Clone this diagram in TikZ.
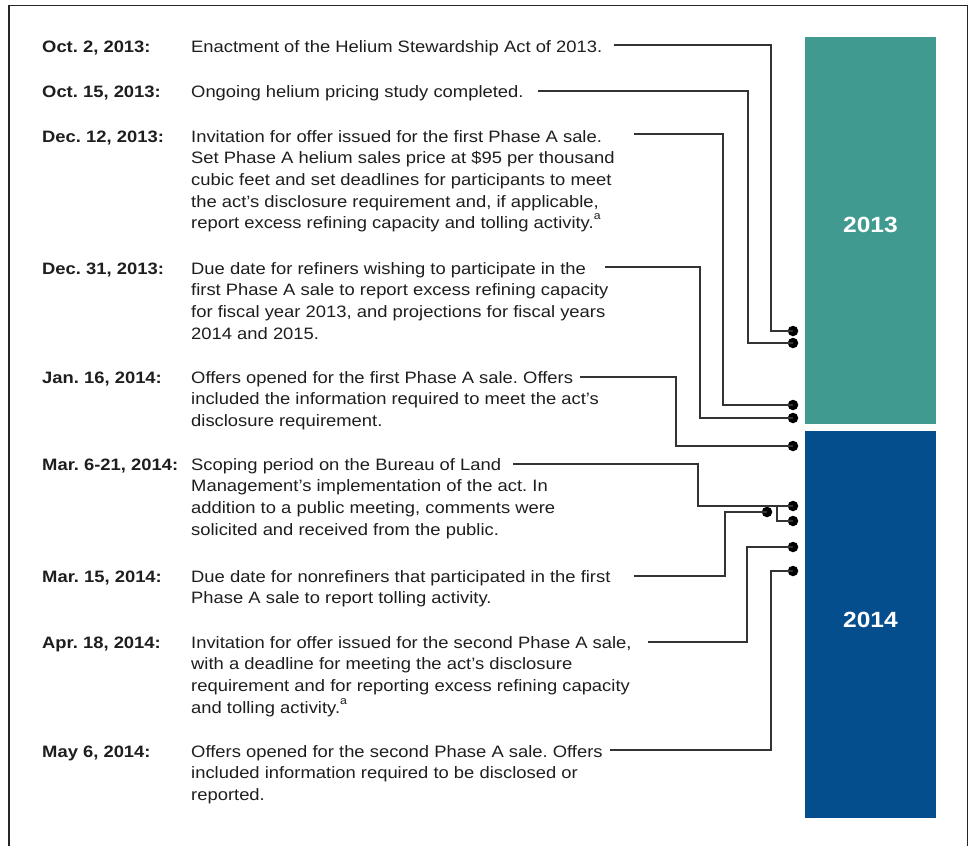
\documentclass[tikz,border=0pt]{standalone}
\usepackage{fontspec}
\setmainfont[FakeStretch=1.115]{Liberation Sans}
\frenchspacing
\definecolor{tealbox}{HTML}{409A90}
\definecolor{bluebox}{HTML}{054E8E}
\definecolor{ink}{HTML}{1E1E1E}
\definecolor{wire}{HTML}{333333}
\newcommand{\supa}{\raisebox{9pt}{\fontsize{11}{11}\selectfont a}}
\begin{document}
\begin{tikzpicture}[x=1pt,y=-1pt,
  txt/.style={inner sep=0pt,anchor=base west,text=ink,font=\fontsize{16.5}{21.7}\selectfont\frenchspacing},
  datelbl/.style={txt,font=\fontsize{16.5}{21.7}\selectfont\bfseries},
  conn/.style={draw=wire,line width=1.4pt},
  dot/.style={circle,fill=black,inner sep=0pt,minimum size=10.5pt},
  yearlbl/.style={text=white,font=\fontsize{22}{24}\selectfont\bfseries}]
\useasboundingbox (0,0) rectangle (972,846);
% frame (open at bottom)
\draw[line width=1.3pt,draw=black!85] (9,846) -- (9,5.5) -- (967.5,5.5) -- (967.5,846);
% year bars
\node[fill=tealbox,inner sep=0pt,minimum width=130.5pt,minimum height=387pt,anchor=north west] (y13) at (805,37) {};
\node[fill=bluebox,inner sep=0pt,minimum width=130.5pt,minimum height=387pt,anchor=north west] (y14) at (805,431) {};
\node[yearlbl] (l13) at ([yshift=6pt]y13.center) {2013};
\node[yearlbl] (l14) at ([yshift=5pt]y14.center) {2014};
% items
\node[datelbl] (t1) at (42,52) {Oct. 2, 2013:};
\node[txt] (d1) at (191,52) {Enactment of the Helium Stewardship Act of 2013.};
\node[datelbl] (t2) at (42,97) {Oct. 15, 2013:};
\node[txt] (d2) at (191,97) {Ongoing helium pricing study completed.};
\node[datelbl] (t3) at (42,142) {Dec. 12, 2013:};
\node[txt] (d3) at (191,142) {Invitation for offer issued for the first Phase A sale.};
\node[txt] (e3) at (191,163.7) {\begin{tabular}[t]{@{}l@{}}Set Phase A helium sales price at \$95 per thousand\\cubic feet and set deadlines for participants to meet\\the act’s disclosure requirement and, if applicable,\\report excess refining capacity and tolling activity.\supa\end{tabular}};
\node[datelbl] (t4) at (42,274) {Dec. 31, 2013:};
\node[txt] (d4) at (191,274) {Due date for refiners wishing to participate in the};
\node[txt] (e4) at (191,295.7) {\begin{tabular}[t]{@{}l@{}}first Phase A sale to report excess refining capacity\\for fiscal year 2013, and projections for fiscal years\\2014 and 2015.\end{tabular}};
\node[datelbl] (t5) at (42,383) {Jan. 16, 2014:};
\node[txt] (d5) at (191,383) {Offers opened for the first Phase A sale. Offers};
\node[txt] (e5) at (191,404.7) {\begin{tabular}[t]{@{}l@{}}included the information required to meet the act’s\\disclosure requirement.\end{tabular}};
\node[datelbl] (t6) at (42,470) {Mar. 6-21, 2014:};
\node[txt] (d6) at (191,470) {Scoping period on the Bureau of Land};
\node[txt] (e6) at (191,491.7) {\begin{tabular}[t]{@{}l@{}}Management’s implementation of the act. In\\addition to a public meeting, comments were\\solicited and received from the public.\end{tabular}};
\node[datelbl] (t7) at (42,582) {Mar. 15, 2014:};
\node[txt] (d7) at (191,582) {Due date for nonrefiners that participated in the first};
\node[txt] (e7) at (191,603.7) {\begin{tabular}[t]{@{}l@{}}Phase A sale to report tolling activity.\end{tabular}};
\node[datelbl] (t8) at (42,648) {Apr. 18, 2014:};
\node[txt] (d8) at (191,648) {Invitation for offer issued for the second Phase A sale,};
\node[txt] (e8) at (191,669.7) {\begin{tabular}[t]{@{}l@{}}with a deadline for meeting the act’s disclosure\\requirement and for reporting excess refining capacity\\and tolling activity.\supa\end{tabular}};
\node[datelbl] (t9) at (42,757) {May 6, 2014:};
\node[txt] (d9) at (191,757) {Offers opened for the second Phase A sale. Offers};
\node[txt] (e9) at (191,778.7) {\begin{tabular}[t]{@{}l@{}}included information required to be disclosed or\\reported.\end{tabular}};
% dots
\node[dot] (p1) at (793,331) {};
\node[dot] (p2) at (793,343) {};
\node[dot] (p3) at (793,405) {};
\node[dot] (p4) at (793,418) {};
\node[dot] (p5) at (793,446) {};
\node[dot] (p6) at (793,506) {};
\node[dot] (p6b) at (793,521) {};
\node[dot] (p7) at (767,512) {};
\node[dot] (p8) at (793,547) {};
\node[dot] (p9) at (793,571) {};
\coordinate (br6) at (777,506);
% connectors
\draw[conn] ([xshift=11pt,yshift=7pt]d1.base east) -| ([xshift=-22pt]p1.center) -- (p1.center);
\draw[conn] ([xshift=14pt,yshift=6pt]d2.base east) -| ([xshift=-45pt]p2.center) -- (p2.center);
\draw[conn] ([xshift=32pt,yshift=8pt]d3.base east) -| ([xshift=-70pt]p3.center) -- (p3.center);
\draw[conn] ([xshift=19pt,yshift=7pt]d4.base east) -| ([xshift=-93pt]p4.center) -- (p4.center);
\draw[conn] ([xshift=7pt,yshift=6pt]d5.base east) -| ([xshift=-117pt]p5.center) -- (p5.center);
\draw[conn] ([xshift=12pt,yshift=6pt]d6.base east) -| ([xshift=-95pt]p6.center) -- (p6.center);
\draw[conn] (br6) |- (p6b.center);
\draw[conn] ([xshift=23pt,yshift=6pt]d7.base east) -| ([xshift=-42pt]p7.center) -- (p7.center);
\draw[conn] ([xshift=16pt,yshift=6pt]d8.base east) -| ([xshift=-46pt]p8.center) -- (p8.center);
\draw[conn] ([xshift=7pt,yshift=7pt]d9.base east) -| ([xshift=-22pt]p9.center) -- (p9.center);
\end{tikzpicture}
\end{document}
